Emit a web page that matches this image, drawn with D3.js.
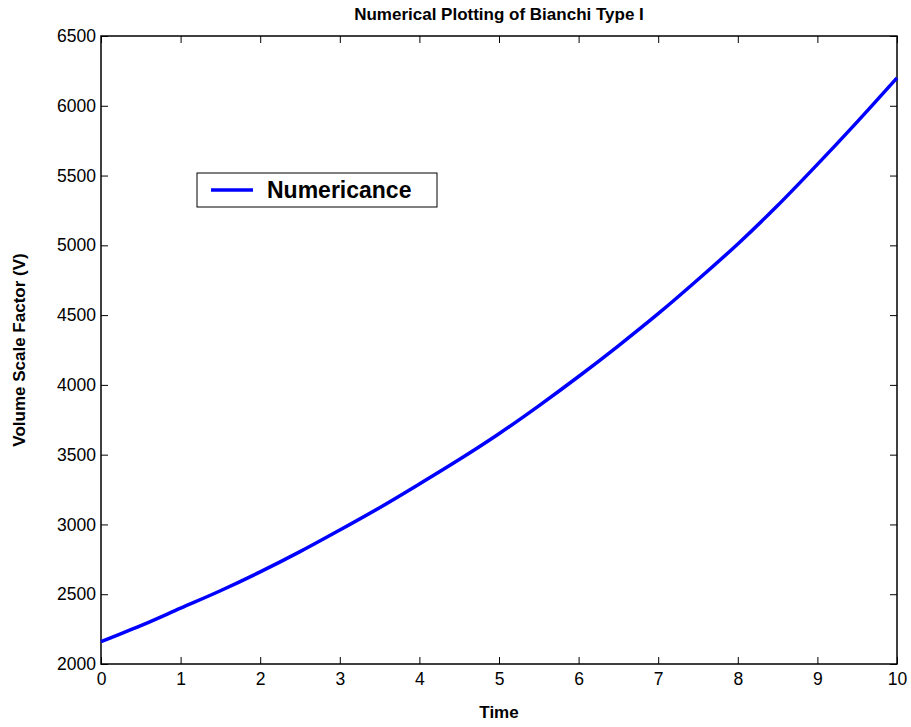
<!DOCTYPE html>
<html>
<head>
<meta charset="utf-8">
<script src="https://cdn.jsdelivr.net/npm/d3@7"></script>
<style>
    body { margin: 0; background: #fff; }
    text { font-family: "Liberation Sans", Arial, sans-serif; }
</style>
</head>
<body>
<svg id="chart" width="911" height="727"></svg>
<script>
// values
const times = [0, 0.5, 1, 1.5, 2, 2.5, 3, 3.5, 4, 4.5, 5, 5.5, 6, 6.5, 7, 7.5, 8, 8.5, 9, 9.5, 10];
const volume = [2160, 2275, 2400, 2525, 2660, 2805, 2960, 3120, 3290, 3465, 3650, 3850, 4060, 4280, 4510, 4755, 5010, 5285, 5580, 5885, 6200];
const xTicks = [0, 1, 2, 3, 4, 5, 6, 7, 8, 9, 10];
const yTicks = [2000, 2500, 3000, 3500, 4000, 4500, 5000, 5500, 6000, 6500];
const seriesName = "Numericance";

const svg = d3.select("#chart");
const margin = { left: 101, right: 14, top: 36, bottom: 63 };
const width = 911 - margin.left - margin.right;
const height = 727 - margin.top - margin.bottom;

const x = d3.scaleLinear().domain([0, 10]).range([0, width]);
const y = d3.scaleLinear().domain([2000, 6500]).range([height, 0]);

const g = svg.append("g").attr("transform", `translate(${margin.left},${margin.top})`);

// axes with inward ticks on all four sides
function styleAxis(sel, showText) {
    sel.select(".domain").remove();
    sel.selectAll(".tick line").attr("stroke", "#000").attr("stroke-width", 1);
    sel.selectAll(".tick text")
        .attr("fill", "#000")
        .style("font-size", "17.5px")
        .style("display", showText ? null : "none");
}

g.append("g")
    .attr("transform", `translate(0,${height})`)
    .call(d3.axisBottom(x).tickValues(xTicks).tickFormat(d3.format("d")).tickSizeInner(-7).tickSizeOuter(0).tickPadding(9))
    .call((s) => styleAxis(s, true));

g.append("g")
    .call(d3.axisTop(x).tickValues(xTicks).tickSizeInner(-7).tickSizeOuter(0))
    .call((s) => styleAxis(s, false));

g.append("g")
    .call(d3.axisLeft(y).tickValues(yTicks).tickFormat(d3.format("d")).tickSizeInner(-7).tickSizeOuter(0).tickPadding(5))
    .call((s) => styleAxis(s, true));

g.append("g")
    .attr("transform", `translate(${width},0)`)
    .call(d3.axisRight(y).tickValues(yTicks).tickSizeInner(-7).tickSizeOuter(0))
    .call((s) => styleAxis(s, false));

g.append("rect")
    .attr("width", width)
    .attr("height", height)
    .attr("fill", "none")
    .attr("stroke", "#000")
    .attr("stroke-width", 1.5);

// the curve
const data = times.map((t, i) => ({ t: t, v: volume[i] }));
const line = d3.line()
    .x((d) => x(d.t))
    .y((d) => y(d.v))
    .curve(d3.curveCatmullRom);

g.append("path")
    .datum(data)
    .attr("fill", "none")
    .attr("stroke", "#0000ff")
    .attr("stroke-width", 3.5)
    .attr("d", line);

// legend
const legend = svg.append("g").attr("transform", "translate(197,173)");
legend.append("rect")
    .attr("width", 240)
    .attr("height", 34)
    .attr("fill", "#fff")
    .attr("stroke", "#000")
    .attr("stroke-width", 1);
legend.append("line")
    .attr("x1", 14).attr("x2", 56)
    .attr("y1", 17).attr("y2", 17)
    .attr("stroke", "#0000ff")
    .attr("stroke-width", 3.5);
legend.append("text")
    .attr("x", 70)
    .attr("y", 25)
    .style("font-size", "23px")
    .style("font-weight", "bold")
    .text(seriesName);

// titles
svg.append("text")
    .attr("x", margin.left + width / 2)
    .attr("y", 20)
    .attr("text-anchor", "middle")
    .style("font-size", "17px")
    .style("font-weight", "bold")
    .text("Numerical Plotting of Bianchi Type I");

svg.append("text")
    .attr("x", margin.left + width / 2)
    .attr("y", 718)
    .attr("text-anchor", "middle")
    .style("font-size", "17px")
    .style("font-weight", "bold")
    .text("Time");

svg.append("text")
    .attr("transform", `translate(25,${margin.top + height / 2}) rotate(-90)`)
    .attr("text-anchor", "middle")
    .style("font-size", "17px")
    .style("font-weight", "bold")
    .text("Volume Scale Factor (V)");
</script>
</body>
</html>
